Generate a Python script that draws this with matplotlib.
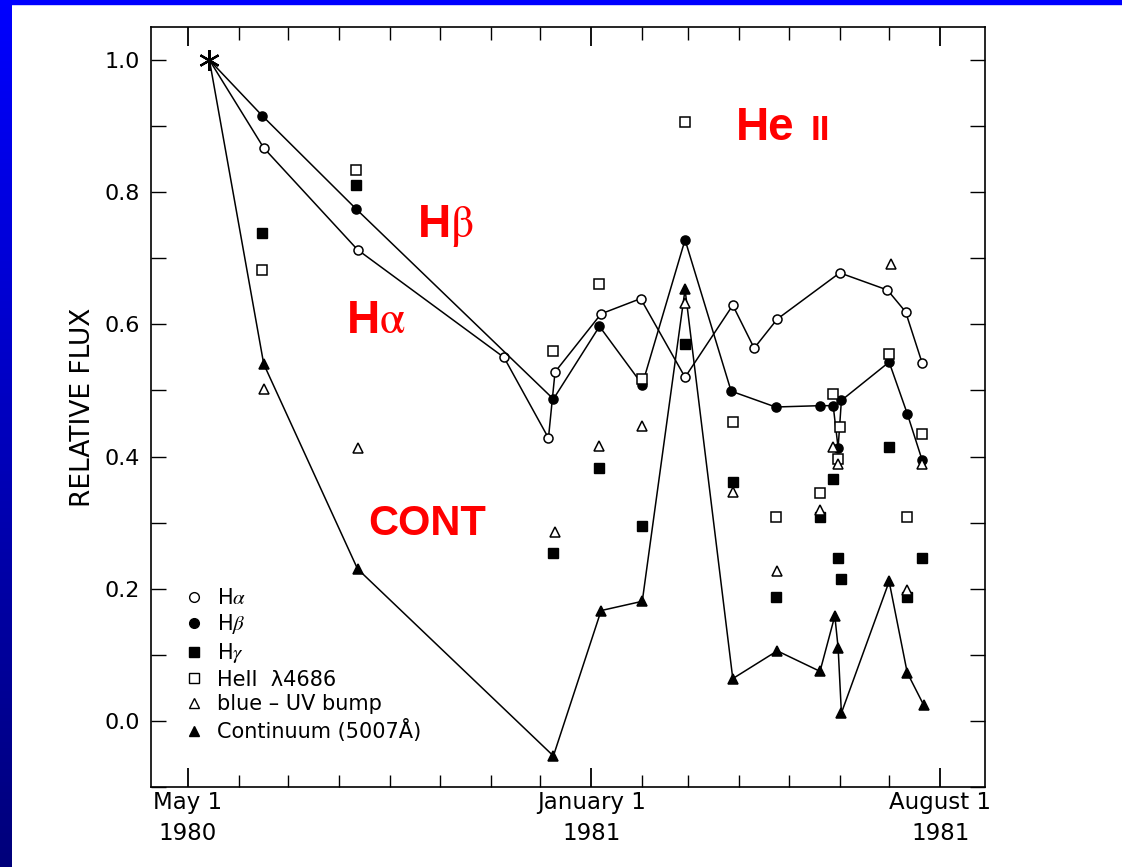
"""Light curves of relative line and continuum flux, May 1980 - August 1981."""

import numpy as np
import matplotlib
matplotlib.use("Agg")
import matplotlib.pyplot as plt
import matplotlib.dates as mdates
from matplotlib.lines import Line2D
from matplotlib.ticker import MultipleLocator
from matplotlib.colors import LinearSegmentedColormap

plt.rcParams["font.family"] = ["DejaVu Sans"]
plt.rcParams["mathtext.fontset"] = "stix"

# common normalisation point (drawn as an asterisk)
START_DATE = "1980-05-14"
START_FLUX = 1.0

ha_dates = ["1980-06-16", "1980-08-12", "1980-11-09", "1980-12-06", "1980-12-10",
            "1981-01-07", "1981-01-31", "1981-02-27", "1981-03-28", "1981-04-10",
            "1981-04-24", "1981-06-01", "1981-06-30", "1981-07-11", "1981-07-21"]
ha_flux = [0.867, 0.713, 0.550, 0.428, 0.528,
           0.616, 0.639, 0.520, 0.629, 0.564,
           0.608, 0.678, 0.652, 0.619, 0.542]

hb_dates = ["1980-06-15", "1980-08-11", "1980-12-09", "1981-01-06", "1981-02-01",
            "1981-02-27", "1981-03-27", "1981-04-23", "1981-05-20", "1981-05-28",
            "1981-05-31", "1981-06-02", "1981-07-01", "1981-07-12", "1981-07-21"]
hb_flux = [0.916, 0.775, 0.487, 0.597, 0.509,
           0.728, 0.499, 0.475, 0.477, 0.477,
           0.413, 0.485, 0.543, 0.465, 0.395]

hg_dates = ["1980-06-15", "1980-08-11", "1980-12-09", "1981-01-06", "1981-02-01",
            "1981-02-27", "1981-03-28", "1981-04-23", "1981-05-20", "1981-05-28",
            "1981-05-31", "1981-06-02", "1981-07-01", "1981-07-12", "1981-07-21"]
hg_flux = [0.739, 0.811, 0.254, 0.382, 0.295,
           0.570, 0.362, 0.188, 0.308, 0.366,
           0.247, 0.215, 0.414, 0.187, 0.246]

heii_dates = ["1980-06-15", "1980-08-11", "1980-12-09", "1981-01-06", "1981-02-01",
              "1981-02-27", "1981-03-28", "1981-04-23", "1981-05-20", "1981-05-28",
              "1981-05-31", "1981-06-01", "1981-07-01", "1981-07-12", "1981-07-21"]
heii_flux = [0.683, 0.833, 0.560, 0.661, 0.518,
             0.907, 0.452, 0.308, 0.345, 0.494,
             0.396, 0.445, 0.555, 0.308, 0.434]

bump_dates = ["1980-06-16", "1980-08-12", "1980-12-10", "1981-01-06", "1981-02-01",
              "1981-02-27", "1981-03-28", "1981-04-24", "1981-05-20", "1981-05-28",
              "1981-05-31", "1981-07-02", "1981-07-12", "1981-07-21"]
bump_flux = [0.502, 0.413, 0.286, 0.416, 0.446,
             0.632, 0.347, 0.227, 0.319, 0.415,
             0.388, 0.692, 0.198, 0.388]

cont_dates = ["1980-06-16", "1980-08-12", "1980-12-09", "1981-01-07", "1981-02-01",
              "1981-02-27", "1981-03-28", "1981-04-24", "1981-05-20", "1981-05-29",
              "1981-05-31", "1981-06-02", "1981-07-01", "1981-07-12", "1981-07-22"]
cont_flux = [0.540, 0.230, -0.053, 0.167, 0.181,
             0.653, 0.064, 0.106, 0.075, 0.159,
             0.111, 0.012, 0.211, 0.073, 0.024]

tick_dates = ["1980-05-01", "1981-01-01", "1981-08-01"]
tick_labels = ["May 1\n1980", "January 1\n1981", "August 1\n1981"]


def days(dates):
    return np.array(dates, dtype="datetime64[D]")


W, H = 1122, 867
fig = plt.figure(figsize=(W / 100, H / 100), dpi=100)

# blue slide frame: gradient strip on the left, flat strip on top
band = fig.add_axes([0, 0, 12 / W, 1])
grad = np.linspace(0, 1, 256).reshape(-1, 1)
cmap = LinearSegmentedColormap.from_list("frame", ["#0000ff", "#00007a"])
band.imshow(grad, aspect="auto", cmap=cmap, extent=[0, 1, 0, 1], origin="upper")
band.axis("off")
fig.patches.append(plt.Rectangle((0, 1 - 4 / H), 1, 4 / H, transform=fig.transFigure,
                                 color="#0000ff", zorder=5))

ax = fig.add_axes([151 / W, 1 - 787 / H, 834 / W, 760 / H])

line_kw = dict(color="black", lw=1.1, mec="black", mew=1.1, zorder=3)
ax.plot(days([START_DATE] + ha_dates), [START_FLUX] + ha_flux, marker="o", ms=6.5,
        mfc="white", markevery=slice(1, None), **line_kw)
ax.plot(days([START_DATE] + hb_dates), [START_FLUX] + hb_flux, marker="o", ms=6.5,
        mfc="black", markevery=slice(1, None), **line_kw)
ax.plot(days([START_DATE] + cont_dates), [START_FLUX] + cont_flux, marker="^", ms=7.5,
        mfc="black", markevery=slice(1, None), **line_kw)

ax.plot(days(hg_dates), hg_flux, ls="none", marker="s", ms=6.5, mfc="black", mec="black", zorder=4)
ax.plot(days(heii_dates), heii_flux, ls="none", marker="s", ms=6.5, mfc="white", mec="black",
        mew=1.1, zorder=4)
ax.plot(days(bump_dates), bump_flux, ls="none", marker="^", ms=6.5, mfc="white", mec="black",
        mew=1.1, zorder=4)

ax.plot(days([START_DATE]), [START_FLUX], ls="none", marker=(6, 2, 0), ms=15, mew=1.6,
        color="black", zorder=5)

ax.set_xlim(np.datetime64("1980-04-08T12"), np.datetime64("1981-08-28T06"))
ax.set_ylim(-0.10, 1.05)

ax.set_xticks(days(tick_dates))
ax.set_xticklabels(tick_labels, linespacing=1.45)
ax.xaxis.set_minor_locator(mdates.MonthLocator())
ax.set_yticks([0.0, 0.2, 0.4, 0.6, 0.8, 1.0])
ax.yaxis.set_minor_locator(MultipleLocator(0.1))

ax.tick_params(axis="x", which="major", direction="in", length=14, width=1.3,
               top=True, labelsize=16.5, pad=3)
ax.tick_params(axis="x", which="minor", direction="in", length=9, width=1.0, top=True)
ax.tick_params(axis="y", which="both", direction="in", length=11, width=1.0,
               right=True, labelsize=16, pad=8)
for s in ax.spines.values():
    s.set_linewidth(1.2)

ax.set_ylabel("RELATIVE FLUX", fontsize=19)
ax.yaxis.set_label_coords(-0.066, 0.5)

handles = [
    Line2D([], [], ls="none", marker="o", ms=7, mfc="white", mec="black", label=r"H$\alpha$"),
    Line2D([], [], ls="none", marker="o", ms=7, mfc="black", mec="black", label=r"H$\beta$"),
    Line2D([], [], ls="none", marker="s", ms=7, mfc="black", mec="black", label=r"H$\gamma$"),
    Line2D([], [], ls="none", marker="s", ms=7, mfc="white", mec="black", label="HeII  λ4686"),
    Line2D([], [], ls="none", marker="^", ms=7, mfc="white", mec="black", label="blue – UV bump"),
    Line2D([], [], ls="none", marker="^", ms=7, mfc="black", mec="black", label="Continuum (5007Å)"),
]
ax.legend(handles=handles, loc="upper left", bbox_to_anchor=(0.042, 0.262), frameon=False,
          fontsize=15, handlelength=0.8, handletextpad=0.7, labelspacing=0.22,
          borderaxespad=0, borderpad=0)

# red annotations
red = dict(color="#ff0000", fontweight="bold", family=["Liberation Sans", "DejaVu Sans"],
           va="baseline", ha="left")
fig.text(417 / W, 1 - 237 / H, r"H$\mathrm{\beta}$", fontsize=33, **red)
fig.text(346 / W, 1 - 333 / H, r"H$\mathrm{\alpha}$", fontsize=33, **red)
fig.text(736 / W, 1 - 140 / H, "He", fontsize=33, **red)
fig.text(811 / W, 1 - 140 / H, "II", fontsize=25, **red)
fig.text(368 / W, 1 - 535 / H, "CONT", fontsize=30, **red)

fig.savefig("out.png", dpi=100)
plt.close(fig)
